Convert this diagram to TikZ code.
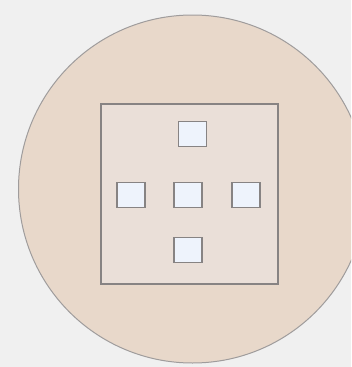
\documentclass[tikz,border=0pt]{standalone}
\usepackage{tikz}

\definecolor{bgcol}{HTML}{F0F0F0}
\definecolor{diskcol}{HTML}{E8D8CA}
\definecolor{boxcol}{HTML}{EADFD8}
\definecolor{cellcol}{HTML}{EEF3FC}
\definecolor{edgecol}{HTML}{878383}

\tikzset{
    cell/.style={draw=edgecol, line width=1.7pt, fill=cellcol, minimum width=28pt, minimum height=25pt, inner sep=0pt}
}

\begin{document}
\begin{tikzpicture}[x=1pt, y=-1pt]
    % Canvas
    \fill[bgcol] (0,0) rectangle (351,367);
    \useasboundingbox (0,0) rectangle (351,367);
    \clip (0,0) rectangle (351,367);

    % Outer disk
    \filldraw[fill=diskcol, draw=edgecol!80, line width=1pt] (192.5,189) circle (174);

    % Inner square
    \node[draw=edgecol, line width=1.3pt, fill=boxcol, minimum width=177pt, minimum height=180pt, inner sep=0pt] (frame) at (189.5,194) {};

    % Cells
    \node[cell] (top) at (192.5,134) {};
    \node[cell] (left) at (131.2,195) {};
    \node[cell] (mid) at (188.3,195) {};
    \node[cell] (right) at (245.7,195) {};
    \node[cell] (bottom) at (188.3,250) {};
\end{tikzpicture}
\end{document}
